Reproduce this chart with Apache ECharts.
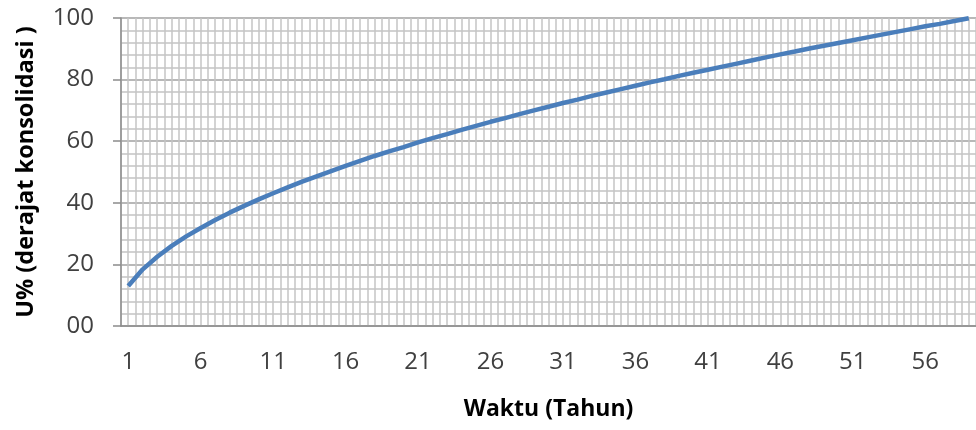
<!DOCTYPE html>
<html>
<head>
<meta charset="utf-8">
<script src="https://cdn.jsdelivr.net/npm/echarts@6/dist/echarts.min.js"></script>
<style>
html,body{margin:0;padding:0;background:#fff;}
#chart{width:976px;height:430px;}
</style>
</head>
<body>
<div id="chart"></div>
<script>
// Categories (Tahun)
var years = [];
for (var i = 1; i <= 59; i++) years.push(String(i));
// U% (derajat konsolidasi)
var uValues = [13.0,18.4,22.5,26.0,29.1,31.8,34.4,36.8,39.0,41.1,
               43.1,45.0,46.9,48.6,50.3,52.0,53.6,55.2,56.7,58.1,
               59.6,61.0,62.3,63.7,65.0,66.3,67.5,68.8,70.0,71.2,
               72.4,73.5,74.7,75.8,76.9,78.0,79.1,80.1,81.2,82.2,
               83.2,84.2,85.2,86.2,87.2,88.2,89.1,90.1,91.0,91.9,
               92.8,93.7,94.6,95.5,96.4,97.3,98.1,99.0,99.9];
var yTicks = [0,20,40,60,80,100];
var xTitle = 'Waktu (Tahun)';
var yTitle = 'U% (derajat konsolidasi )';

var font = 'Open Sans';
var chart = echarts.init(document.getElementById('chart'), null, {renderer:'canvas'});
chart.setOption({
  animation:false,
  backgroundColor:'#fff',
  grid:{left:121, right:-6, top:18, bottom:104, containLabel:false},
  xAxis:[{
    type:'category', data:years, boundaryGap:true,
    axisLine:{show:true, lineStyle:{color:'#8c8c8c', width:1.5}},
    axisTick:{show:false},
    axisLabel:{interval:4, color:'#404040', fontFamily:font, fontSize:24, margin:24},
    splitLine:{show:false},
    name:xTitle, nameLocation:'middle', nameGap:72,
    nameTextStyle:{fontFamily:font, fontWeight:'bold', fontSize:23, color:'#000'}
  },{
    type:'value', min:0, max:118, interval:1, show:true,
    axisLine:{show:false}, axisTick:{show:false}, axisLabel:{show:false},
    splitLine:{show:true, lineStyle:{color:'#c4c4c4', width:1.5}}
  }],
  yAxis:{
    type:'value', min:yTicks[0], max:yTicks[yTicks.length-1], interval:20,
    axisLine:{show:true, lineStyle:{color:'#8c8c8c', width:1.5}},
    axisTick:{show:true, inside:false, length:8, lineStyle:{color:'#8c8c8c', width:1.5}},
    axisLabel:{color:'#404040', fontFamily:font, fontSize:24, margin:27,
      formatter:function(v){return v===0?'00':String(v);}},
    splitLine:{show:true, lineStyle:{color:'#a0a0a0', width:1.5}},
    minorTick:{show:false, splitNumber:5},
    minorSplitLine:{show:true, lineStyle:{color:'#c4c4c4', width:1.5}},
    name:yTitle, nameLocation:'middle', nameGap:83, nameRotate:90,
    nameTextStyle:{fontFamily:font, fontWeight:'bold', fontSize:23.5, color:'#000'}
  },
  series:[{
    type:'line', data:uValues, xAxisIndex:0, yAxisIndex:0,
    showSymbol:false, symbol:'none', smooth:false,
    lineStyle:{color:'#4a7ebb', width:4.5},
    z:5
  }]
});
</script>
</body>
</html>
